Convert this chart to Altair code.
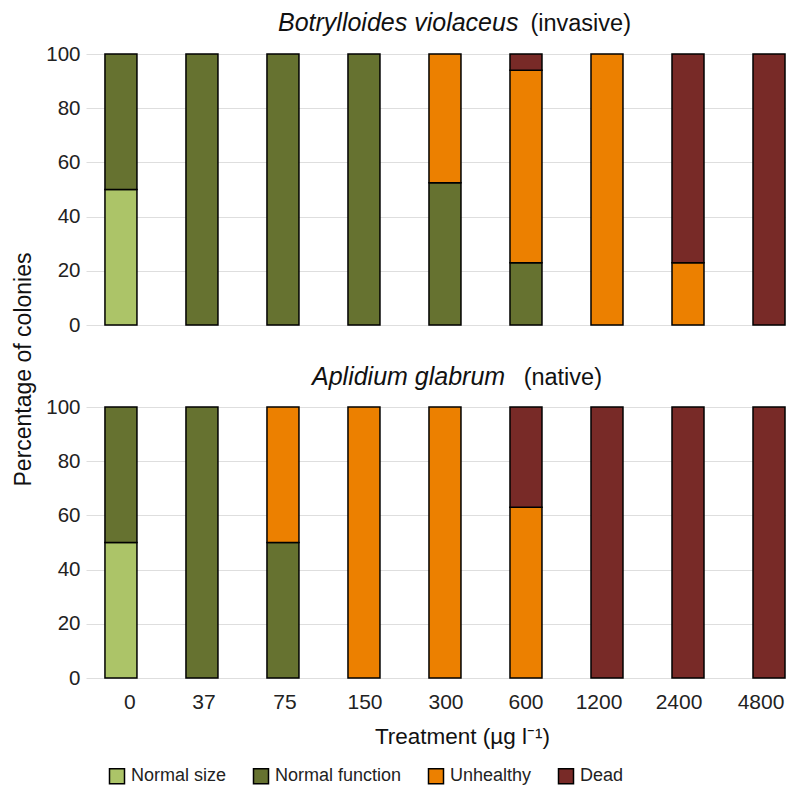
import altair as alt
import pandas as pd

treatments = ["0", "37", "75", "150", "300", "600", "1200", "2400", "4800"]
states = ["Normal size", "Normal function", "Unhealthy", "Dead"]
colors = ["#acc468", "#667230", "#ec8000", "#782a27"]

bv_normal_size = [50, 0, 0, 0, 0, 0, 0, 0, 0]
bv_normal_function = [50, 100, 100, 100, 52.5, 23, 0, 0, 0]
bv_unhealthy = [0, 0, 0, 0, 47.5, 71, 100, 23, 0]
bv_dead = [0, 0, 0, 0, 0, 6, 0, 77, 100]

ag_normal_size = [50, 0, 0, 0, 0, 0, 0, 0, 0]
ag_normal_function = [50, 100, 50, 0, 0, 0, 0, 0, 0]
ag_unhealthy = [0, 0, 50, 100, 100, 63, 0, 0, 0]
ag_dead = [0, 0, 0, 0, 0, 37, 100, 100, 100]

FONT = "Liberation Sans"


def long_df(series):
    rows = []
    for idx, (state, vals) in enumerate(zip(states, series)):
        for t, v in zip(treatments, vals):
            if v > 0:
                rows.append({"treatment": t, "state": state, "idx": idx, "pct": v})
    return pd.DataFrame(rows)


bv = long_df([bv_normal_size, bv_normal_function, bv_unhealthy, bv_dead])
ag = long_df([ag_normal_size, ag_normal_function, ag_unhealthy, ag_dead])

W, H = 699, 271
IT_SIZE, NO_SIZE = 25, 23.5

xscale = alt.Scale(domain=treatments, paddingInner=0.605, paddingOuter=0.117, align=1)
legend = alt.Legend(
    title=None, orient="none", legendX=22, legendY=713, direction="horizontal",
    columns=4, symbolType="square", symbolSize=225, symbolStrokeColor="black",
    symbolStrokeWidth=1.5, labelFontSize=18, labelColor="#222222", labelFont=FONT,
    columnPadding=23, labelOffset=5, padding=0,
)

label_offset = {
    "condition": [
        {"test": "datum.label == '0'", "value": 9},
        {"test": "datum.label == '37'", "value": 2},
        {"test": "datum.label == '75'", "value": 2},
        {"test": "datum.label == '150'", "value": 1},
        {"test": "datum.label == '300'", "value": 1},
        {"test": "datum.label == '1200'", "value": -8},
        {"test": "datum.label == '2400'", "value": -9},
        {"test": "datum.label == '4800'", "value": -8},
    ],
    "value": 0,
}


def panel(df, italic, normal, it_left, no_right, top):
    if top:
        xaxis = None
        yaxis = alt.Axis(values=[0, 20, 40, 60, 80, 100], title="Percentage of colonies",
                         titleY=315, titleFontSize=23, titleFontWeight="normal",
                         titleColor="#111111", titlePadding=10)
        it_top = -42.8
        baseline_y = it_top + 0.79 * IT_SIZE
        y1 = alt.value(it_top)
        y2 = alt.value(baseline_y - 0.79 * NO_SIZE)
        base = "top"
    else:
        xaxis = alt.Axis(title="Treatment (µg l⁻¹)", labelAngle=0, labelPadding=13.5,
                         titleFontSize=22.5, titleFontWeight="normal", titleColor="#111111",
                         titlePadding=13, titleX=376, domain=False, ticks=False, labelFontSize=21,
                         labelColor="#222222", labelOffset=label_offset)
        yaxis = alt.Axis(values=[0, 20, 40, 60, 80, 100], title=None)
        y1 = alt.value(-22)
        y2 = alt.value(-22)
        base = "alphabetic"
    bars = alt.Chart(df).mark_bar(stroke="black", strokeWidth=1.5).encode(
        x=alt.X("treatment:N", sort=treatments, scale=xscale, axis=xaxis),
        y=alt.Y("pct:Q", stack="zero", scale=alt.Scale(domain=[0, 100], nice=False), axis=yaxis),
        color=alt.Color("state:N", scale=alt.Scale(domain=states, range=colors), legend=legend),
        order=alt.Order("idx:Q", sort="ascending"),
    )
    t1 = alt.Chart(pd.DataFrame({"t": [italic]})).mark_text(
        align="left", baseline=base, fontSize=IT_SIZE, fontStyle="italic", font=FONT,
        color="#111111").encode(text="t:N", x=alt.value(it_left), y=y1)
    t2 = alt.Chart(pd.DataFrame({"t": [normal]})).mark_text(
        align="right", baseline=base, fontSize=NO_SIZE, font=FONT,
        color="#111111").encode(text="t:N", x=alt.value(no_right), y=y2)
    return alt.layer(bars, t1, t2).properties(width=W, height=H)


top = panel(bv, "Botrylloides violaceus", "(invasive)", 192, 545, True)
bottom = panel(ag, "Aplidium glabrum", "(native)", 226, 516, False)

chart = alt.vconcat(top, bottom, spacing=82, bounds="flush").properties(
    padding={"left": 4, "top": 3, "right": 0, "bottom": 0}
).configure_view(stroke=None).configure_axis(
    labelFont=FONT, titleFont=FONT, labelFontSize=20.5, labelColor="#222222",
    domain=False, ticks=False, tickSize=0, labelPadding=6,
    grid=True, gridColor="#dedede", gridWidth=1,
).configure_axisX(grid=False).configure_text(font=FONT)

chart.save("out.html", embed_options={"renderer": "svg", "actions": False})
